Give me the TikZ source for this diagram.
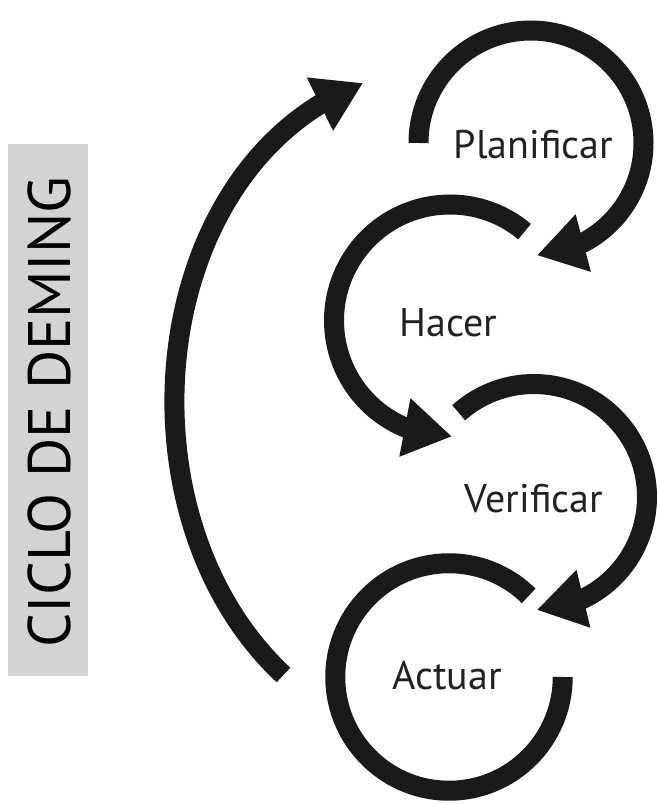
\documentclass[tikz,border=0pt]{standalone}
\usepackage{fontspec}
\setmainfont{PT Sans}
\usetikzlibrary{arrows.meta,bending}
\definecolor{ink}{HTML}{1A1A1A}
\definecolor{txt}{HTML}{222222}
\definecolor{band}{HTML}{D3D3D3}
\tikzset{
  cyc/.style={draw=ink, line width=20pt, line cap=butt},
  tip/.style={-{Triangle[length=48pt,width=56pt,flex]}},
  phase/.style={font=\fontsize{40}{40}\selectfont, text=txt, anchor=base, inner sep=0pt},
  title/.style={font=\fontsize{60}{60}\selectfont, text=black, anchor=base, inner sep=0pt, rotate=90}
}
\begin{document}
\begin{tikzpicture}[x=1pt,y=1pt]
  \useasboundingbox (0,0) rectangle (658,804);

  % side band with the title
  \fill[band] (8,128) rectangle (88,660);
  \node[title] (ttl) at (70,392) {CICLO DE DEMING};

  % centres of the four stages
  \coordinate (cp) at (531,661);
  \coordinate (ch) at (450,483.5);
  \coordinate (cv) at (534,307);
  \coordinate (ca) at (449,127);

  % stage labels
  \node[phase] (plan) at (533.5,645) {Planificar};
  \node[phase] (hacer) at (448.5,467) {Hacer};
  \node[phase] (verif) at (534,291) {Verificar};
  \node[phase] (actuar) at (447,114) {Actuar};

  % stage arcs
  \draw[cyc, tip] (cp) ++(180:112.5) arc[start angle=180, end angle=-87, radius=112.5];
  \draw[cyc, tip] (ch) ++(50:116) arc[start angle=50, end angle=271, radius=116];
  \draw[cyc, tip] (cv) ++(131.8:113) arc[start angle=131.8, end angle=-88.6, radius=113];
  \draw[cyc] (ca) ++(45.5:113.75) arc[start angle=45.5, end angle=360, radius=113.75];

  % return arrow from Actuar back to Planificar
  \coordinate (rs) at (283.5,129);
  \coordinate (re) at (363,721);
  \draw[cyc, tip] (rs) to[out=137, in=201] (re);
\end{tikzpicture}
\end{document}
